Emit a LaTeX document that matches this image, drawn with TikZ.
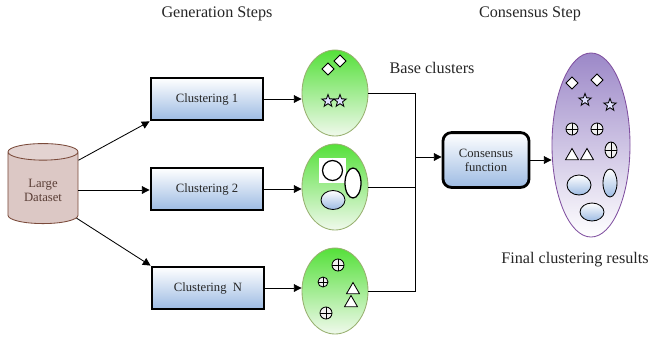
\documentclass[tikz,border=0pt]{standalone}
\usepackage{fontspec}
\setmainfont{Liberation Serif}
\usetikzlibrary{arrows.meta,shapes.geometric}
\definecolor{boxblue}{HTML}{9DBBE3}
\definecolor{dsfill}{HTML}{DCC8C5}
\definecolor{dsline}{HTML}{7A4A3A}
\definecolor{dstext}{HTML}{5A3E36}
\definecolor{leaf}{HTML}{55E03A}
\definecolor{leafpale}{HTML}{F0F9EC}
\definecolor{leafline}{HTML}{98B070}
\definecolor{lilac}{HTML}{9C88C8}
\definecolor{lilacline}{HTML}{8050A0}
\def\diamondmark(#1,#2){\draw[fill=white, line width=0.6pt] (#1,#2) +(0,6) -- +(6,0) -- +(0,-6) -- +(-6,0) -- cycle;}
\def\starmark(#1,#2){\draw[fill=blue!12, line width=0.6pt] (#1,#2) +(90:6.5) -- +(126:2.7) -- +(162:6.5) -- +(198:2.7) -- +(234:6.5) -- +(270:2.7) -- +(306:6.5) -- +(342:2.7) -- +(18:6.5) -- +(54:2.7) -- cycle;}
\def\trianglemark(#1,#2){\draw[fill=white, line width=0.6pt] (#1,#2) +(90:7.5) -- +(210:7.5) -- +(330:7.5) -- cycle;}
\def\oplusmark(#1,#2)(#3:#4){\draw[fill=gray!12, line width=0.6pt] (#1,#2) ellipse ({#3} and {#4}); \draw[line width=0.6pt] (#1-#3,#2) -- (#1+#3,#2) (#1,#2-#4) -- (#1,#2+#4);}
\def\blobmark(#1,#2)(#3:#4){\draw[top color=white, bottom color=boxblue, line width=0.6pt] (#1,#2) ellipse ({#3} and {#4});}

\begin{document}
\begin{tikzpicture}[x=0.025cm, y=0.025cm, >={Triangle[length=5.5pt,width=5.5pt]},
	lbl/.style={text=black!85, font=\fontsize{11.5}{13}\selectfont},
	clusterbox/.style={draw, line width=2pt, top color=white, bottom color=boxblue, minimum width=2.8cm, minimum height=1.05cm, font=\fontsize{9}{10}\selectfont, text=black!85},
	basecl/.style={ellipse, draw=leafline, line width=0.6pt, top color=leaf, bottom color=leafpale, minimum width=1.65cm, minimum height=2.15cm, inner sep=0pt},
	conn/.style={line width=0.6pt}]
			%%%%% START %%%%%
			
			\useasboundingbox (0,0) rectangle (651,-344);
			
			\node[lbl] (gen) at (217,-14) {Generation Steps};
			\node[lbl] (cstep) at (530,-14) {Consensus Step};
			\node[lbl] (base) at (432,-68) {Base clusters};
			\node[lbl] (final) at (575,-260) {Final clustering results};
			
			\node[cylinder, shape border rotate=90, draw=dsline, line width=0.6pt, cylinder uses custom fill, cylinder body fill=dsfill, cylinder end fill=dsfill!80, aspect=0.35, minimum width=1.75cm, minimum height=2cm, align=center, text=dstext, font=\fontsize{9}{10}\selectfont] (data) at (43,-190) {Large\\Dataset};
			
			\node[clusterbox] (c1) at (207,-99) {Clustering 1};
			\node[clusterbox] (c2) at (207,-189) {Clustering 2};
			\node[clusterbox] (cN) at (208,-288) {Clustering\enspace N};
			
			\node[basecl] (e1) at (335,-93) {};
			\node[basecl] (e2) at (335,-187) {};
			\node[basecl] (e3) at (335,-291) {};
			
			\node[draw, line width=2pt, rounded corners=6pt, top color=white, bottom color=boxblue, minimum width=2.15cm, minimum height=1.37cm, align=center, font=\fontsize{9}{10}\selectfont, text=black!85] (cons) at (486,-160) {Consensus\\function};
			
			\node[ellipse, draw=lilacline, line width=0.6pt, top color=lilac, bottom color=white, minimum width=1.95cm, minimum height=4.6cm, inner sep=0pt] (fin) at (591,-145) {};
			
			\coordinate (bus) at (415,-157);
			
			% connectors
			\draw[conn, ->] (data.40) -- (c1.south west);
			\draw[conn, ->] (data.east) -- (data.east -| c2.west);
			\draw[conn, ->] (data.-40) -- (cN.north west);
			\draw[conn, ->] (c1.east) -- (c1.east -| e1.west);
			\draw[conn, ->] (c2.east) -- (c2.east -| e2.west);
			\draw[conn, ->] (cN.east) -- (cN.east -| e3.west);
			\draw[conn] (e1.east) -| (bus);
			\draw[conn] (e2.east) -| (bus);
			\draw[conn] (e3.east) -| (bus);
			\draw[conn, ->] (bus) -- (bus -| cons.west);
			\draw[conn, ->] (cons.east) -- (cons.east -| fin.west);
			
			% base cluster 1
			\diamondmark(328,-69)
			\diamondmark(340,-61)
			\starmark(328,-101)
			\starmark(340,-101)
			
			% base cluster 2
			\fill[white] (319,-158) rectangle (346,-183);
			\draw[line width=0.9pt] (332.5,-170.5) circle (10);
			\draw[fill=white, line width=0.9pt] (353,-183) ellipse (8 and 15);
			\blobmark(333,-200)(12:9.5)
			
			% base cluster 3
			\oplusmark(338,-265)(6:6)
			\oplusmark(323,-282)(5:5)
			\oplusmark(326,-313)(6:6)
			\trianglemark(353,-290)
			\trianglemark(351,-303)
			
			% final clusters
			\diamondmark(572,-83)
			\diamondmark(597,-80)
			\starmark(585,-100)
			\starmark(610,-105)
			\oplusmark(572,-129)(6:6)
			\oplusmark(597,-129)(6:6)
			\oplusmark(611,-150)(6:8)
			\trianglemark(572,-156)
			\trianglemark(587,-156)
			\blobmark(579,-185)(12:10)
			\blobmark(610,-183)(7:14)
			\blobmark(592,-212)(12:9)
			
			%%%%% END %%%%%
\end{tikzpicture}
\end{document}
